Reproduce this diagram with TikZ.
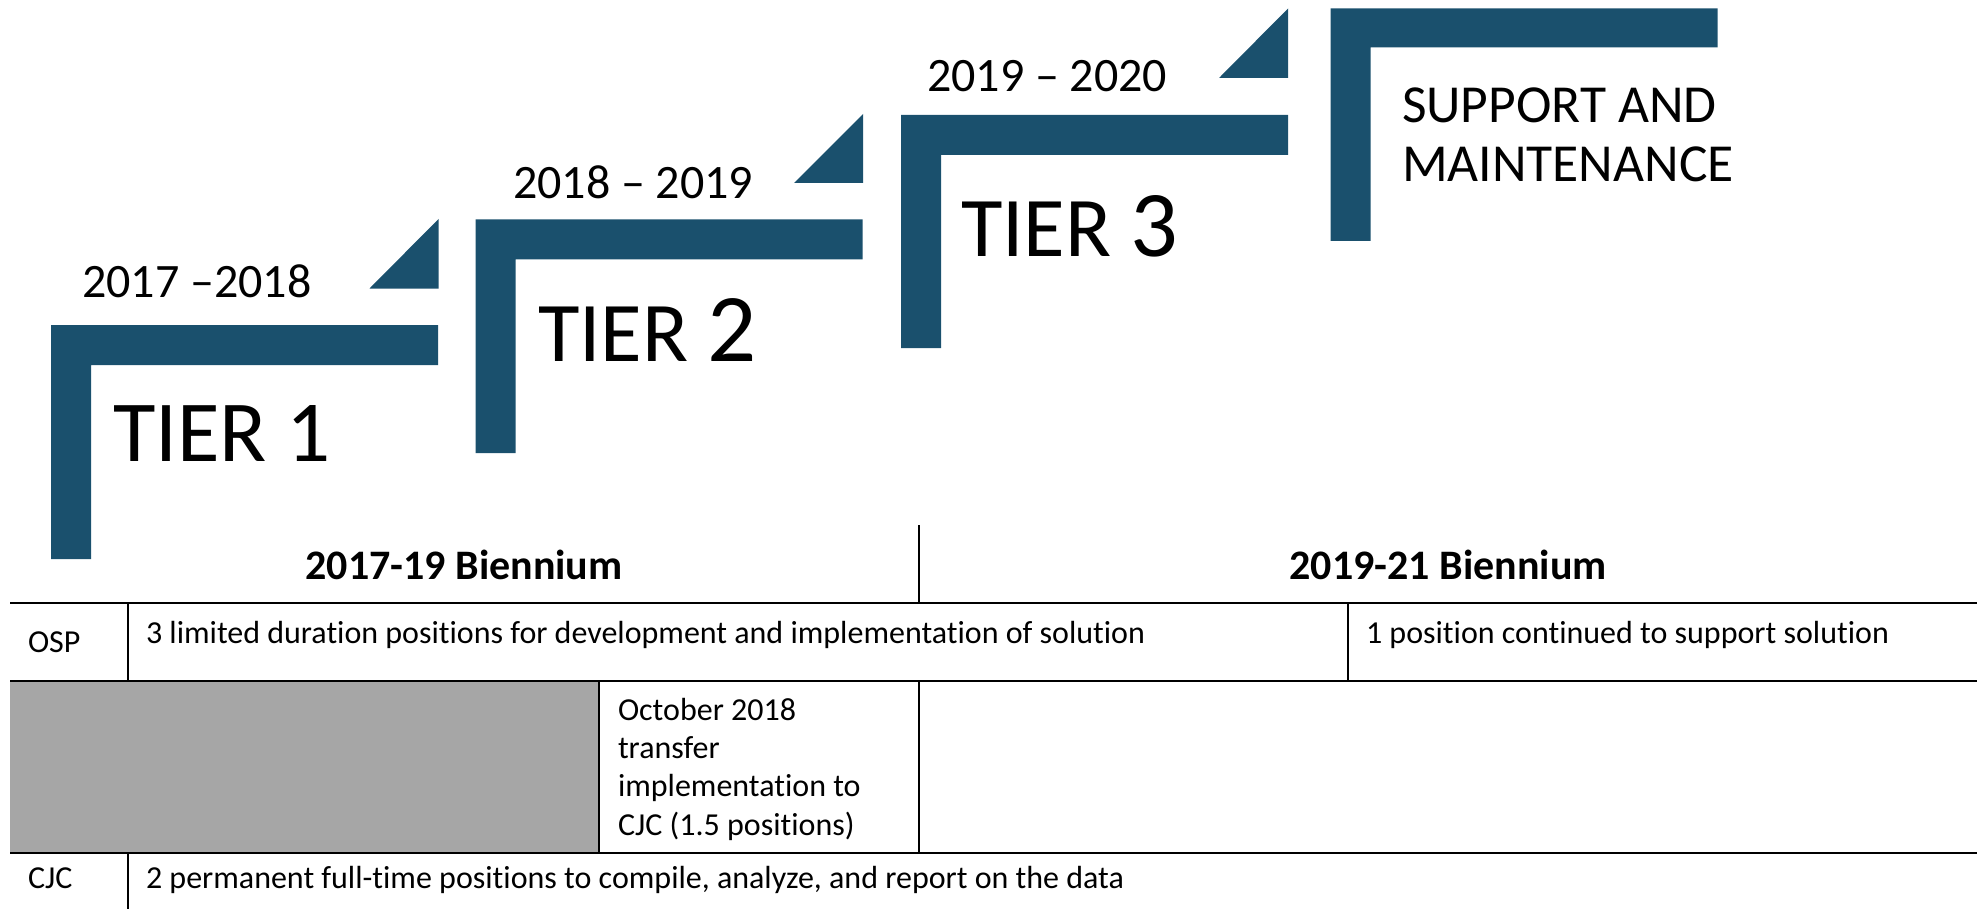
\documentclass[tikz,border=0pt]{standalone}
\usepackage{fontspec}
\setmainfont{Carlito}[Ligatures=NoCommon]
\definecolor{tierblue}{RGB}{26,80,109}
\definecolor{cellgray}{RGB}{166,166,166}
\tikzset{
  bar/.style={fill=tierblue, draw=none},
  txt/.style={inner sep=0pt, outer sep=0pt, anchor=base west, text=black},
  date/.style={txt, font=\fontsize{48}{56}\selectfont},
  cell/.style={txt, font=\fontsize{32}{38}\selectfont},
  head/.style={inner sep=0pt, anchor=base, font=\fontsize{42}{50}\selectfont\bfseries},
  rule/.style={draw=black, line width=2pt},
}
\begin{document}
\begin{tikzpicture}[x=1pt,y=-1pt]
\useasboundingbox (0,0) rectangle (1977,909);
% ---------- L-shaped steps ----------
\fill[bar] (51,325) -- (438,325) -- (438,365) -- (91,365) -- (91,559) -- (51,559) -- cycle;
\fill[bar] (475.5,219.5) -- (862.5,219.5) -- (862.5,259.5) -- (515.5,259.5) -- (515.5,453) -- (475.5,453) -- cycle;
\fill[bar] (901,115) -- (1288,115) -- (1288,155) -- (941,155) -- (941,348) -- (901,348) -- cycle;
\fill[bar] (1330.5,8.5) -- (1717.5,8.5) -- (1717.5,47.5) -- (1370.5,47.5) -- (1370.5,241) -- (1330.5,241) -- cycle;
% ---------- triangles ----------
\fill[bar] (369.5,288.5) -- (438.5,219) -- (438.5,288.5) -- cycle;
\fill[bar] (794,183) -- (863,114) -- (863,183) -- cycle;
\fill[bar] (1219,78) -- (1288,8.5) -- (1288,78) -- cycle;
% ---------- step texts ----------
\node[date] (d1) at (82,298) {2017 –2018};
\node[date] (d2) at (513,198.5) {2018 – 2019};
\node[date] (d3) at (927,91.5) {2019 – 2020};
\node[txt, font=\fontsize{87}{100}\selectfont] (t1) at (113,461.5) {TIER 1};
\node[txt] (t2) at (538,361.5) {\fontsize{85}{96}\selectfont TIER \fontsize{97}{110}\selectfont 2};
\node[txt] (t3) at (961,256.5) {\fontsize{85}{96}\selectfont TIER \fontsize{94}{106}\selectfont 3};
\node[txt, font=\fontsize{53.5}{59}\selectfont] (s1) at (1402,122.5) {SUPPORT AND};
\node[txt, font=\fontsize{53.5}{59}\selectfont] (s2) at (1402,181.5) {MAINTENANCE};
% ---------- table ----------
\fill[cellgray] (10,681) rectangle (599,852.5);
\draw[rule] (10,602.5) -- (1977,602.5);
\draw[rule] (10,680.5) -- (1977,680.5);
\draw[rule] (10,852.5) -- (1977,852.5);
\draw[rule] (918.5,525) -- (918.5,602.5);
\draw[rule] (127.5,602.5) -- (127.5,680.5);
\draw[rule] (1348,602.5) -- (1348,680.5);
\draw[rule] (599,680.5) -- (599,852.5);
\draw[rule] (918.5,680.5) -- (918.5,852.5);
\draw[rule] (127.5,852.5) -- (127.5,909);
% ---------- table texts ----------
\node[head] (h1) at (464,579.5) {2017-19 Biennium};
\node[head] (h2) at (1448,579.5) {2019-21 Biennium};
\node[cell] (osp) at (28,652) {OSP};
\node[cell] (osptext) at (146,643) {3 limited duration positions for development and implementation of solution};
\node[cell] (osp2) at (1366,643) {1 position continued to support solution};
\node[cell] (oct1) at (618,720) {October 2018};
\node[cell] (oct2) at (618,758.3) {transfer};
\node[cell] (oct3) at (618,796.6) {implementation to};
\node[cell] (oct4) at (618,835) {CJC (1.5 positions)};
\node[cell] (cjc) at (28,888) {CJC};
\node[cell] (cjctext) at (146,888) {2 permanent full-time positions to compile, analyze, and report on the data};
\end{tikzpicture}
\end{document}
